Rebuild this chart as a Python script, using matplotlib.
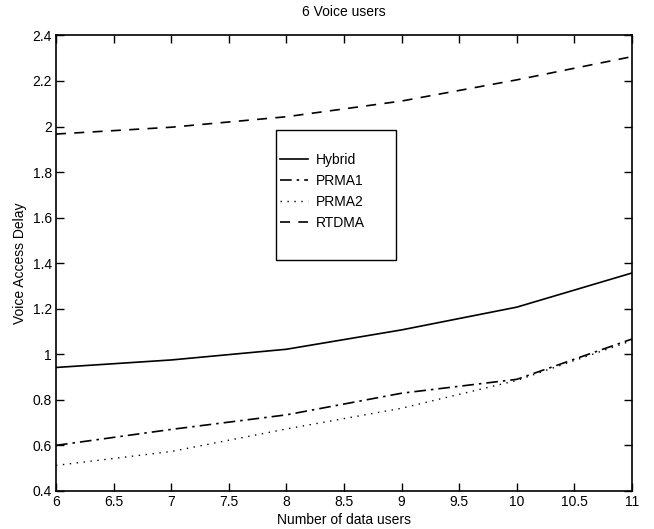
import matplotlib
matplotlib.use("Agg")
import matplotlib.pyplot as plt
from matplotlib.patches import Rectangle

plt.rcParams["font.family"] = ["Liberation Sans", "DejaVu Sans"]

# number of data users
data_users = [6, 7, 8, 9, 10, 11]

# voice access delay per scheme
hybrid = [0.942, 0.975, 1.022, 1.107, 1.207, 1.357]
prma1 = [0.600, 0.670, 0.734, 0.829, 0.890, 1.067]
prma2 = [0.512, 0.573, 0.672, 0.763, 0.885, 1.060]
rtdma = [1.967, 1.997, 2.043, 2.112, 2.205, 2.307]

x_ticks = [6, 6.5, 7, 7.5, 8, 8.5, 9, 9.5, 10, 10.5, 11]
x_ticklabels = ["6", "6.5", "7", "7.5", "8", "8.5", "9", "9.5", "10", "10.5", "11"]
y_ticks = [0.4, 0.6, 0.8, 1.0, 1.2, 1.4, 1.6, 1.8, 2.0, 2.2, 2.4]
y_ticklabels = ["0.4", "0.6", "0.8", "1", "1.2", "1.4", "1.6", "1.8", "2", "2.2", "2.4"]

fig = plt.figure(figsize=(6.54, 5.29), dpi=100)
ax = fig.add_axes([0.0856, 0.072, 0.8808, 0.861])

ax.plot(data_users, hybrid, color="black", lw=1.2, ls="-", label="Hybrid")
ax.plot(data_users, prma1, color="black", lw=1.2, ls=(0, (7, 3, 1.5, 3)), label="PRMA1")
ax.plot(data_users, prma2, color="black", lw=1.0, ls=(0, (1, 4)), label="PRMA2")
ax.plot(data_users, rtdma, color="black", lw=1.2, ls=(0, (6, 5)), label="RTDMA")

ax.set_xlim(6, 11)
ax.set_ylim(0.4, 2.4)
ax.set_xticks(x_ticks)
ax.set_xticklabels(x_ticklabels)
ax.set_yticks(y_ticks)
ax.set_yticklabels(y_ticklabels)
ax.tick_params(direction="in", length=6, width=1, top=True, right=True,
               labelsize=10, pad=3)
for s in ax.spines.values():
    s.set_linewidth(1.2)

ax.set_xlabel("Number of data users", fontsize=10, labelpad=3)
ax.set_ylabel("Voice Access Delay", fontsize=10, labelpad=4)
ax.set_title("6 Voice users", fontsize=10, pad=14)

# MATLAB-style legend box: tight on the left, roomy above and below
ax.add_patch(Rectangle((0.382, 0.507), 0.208, 0.286, transform=ax.transAxes,
                       fill=True, facecolor="white", edgecolor="black",
                       lw=1.0, zorder=4))
leg = ax.legend(loc="upper left", bbox_to_anchor=(0.389, 0.742), fontsize=10,
                frameon=False, borderpad=0, labelspacing=0.5, handlelength=2.0,
                handletextpad=0.55, borderaxespad=0)
leg.set_zorder(5)

fig.savefig("out.png", dpi=100)
